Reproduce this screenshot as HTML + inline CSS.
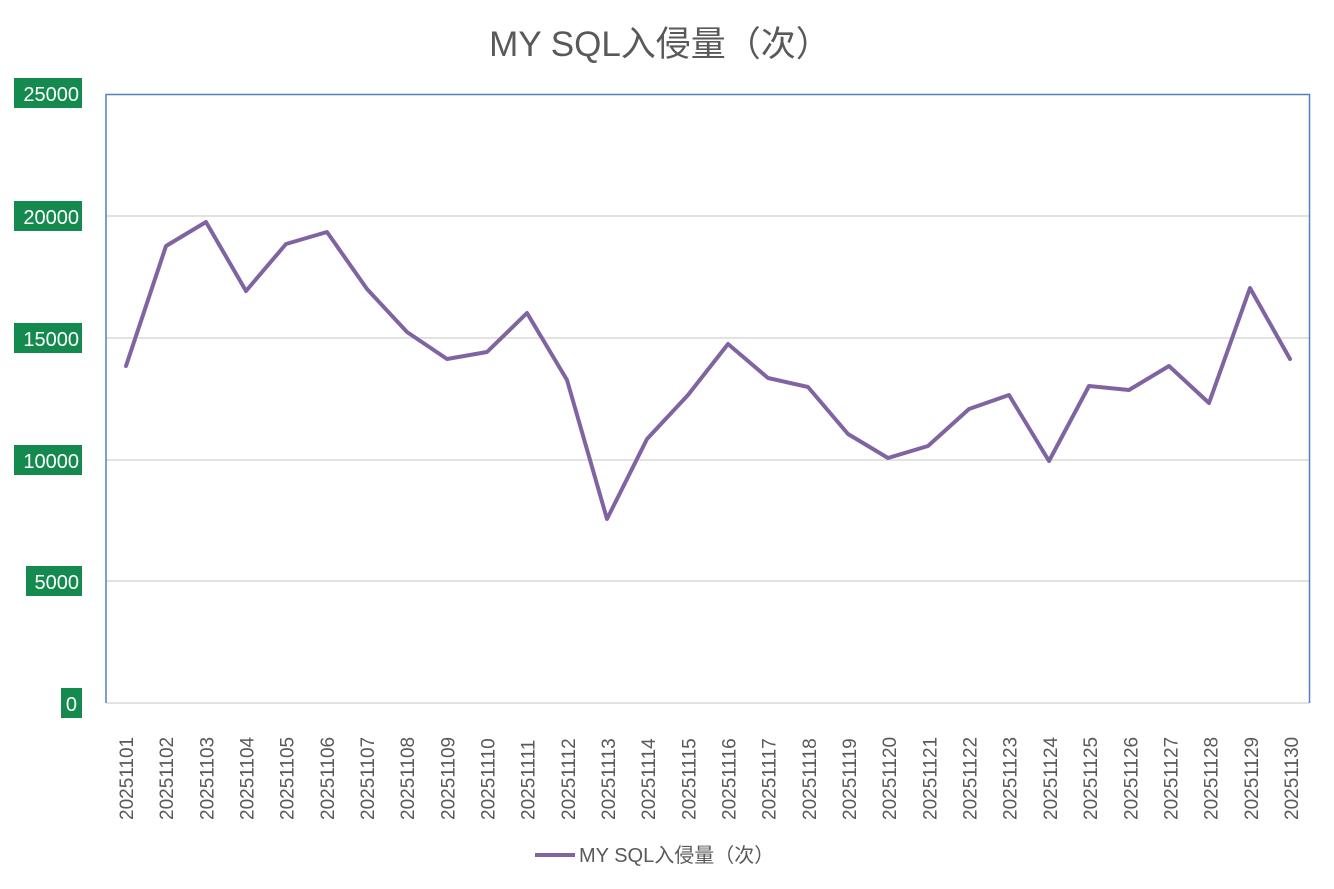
<!DOCTYPE html>
<html><head><meta charset="utf-8"><style>
html,body{margin:0;padding:0;background:#fff;}
svg{display:block;font-family:"Liberation Sans","Noto Sans CJK SC",sans-serif;}
</style></head><body>
<svg width="1334" height="889" viewBox="0 0 1334 889">
<text x="660" y="56" text-anchor="middle" font-size="35" fill="#595959">MY SQL入侵量（次）</text>
<g stroke="#d9d9d9" stroke-width="1.5">
<line x1="106" y1="216" x2="1309" y2="216"/>
<line x1="106" y1="338" x2="1309" y2="338"/>
<line x1="106" y1="460" x2="1309" y2="460"/>
<line x1="106" y1="581" x2="1309" y2="581"/>
<line x1="106" y1="703" x2="1309" y2="703"/>
</g>
<path d="M106 703 V94.5 H1309.5 V703" fill="none" stroke="#4f81bd" stroke-width="1.5"/>
<g fill="#148a4f">
<rect x="14" y="78" width="68" height="30"/>
<rect x="14" y="201" width="68" height="30"/>
<rect x="14" y="323" width="68" height="30"/>
<rect x="14" y="445" width="68" height="30"/>
<rect x="26" y="566" width="56" height="30"/>
<rect x="61" y="688" width="21" height="30"/>
</g>
<g fill="#fff" font-size="20" text-anchor="end">
<text x="79" y="101">25000</text>
<text x="79" y="224">20000</text>
<text x="79" y="346">15000</text>
<text x="79" y="468">10000</text>
<text x="79" y="589">5000</text>
<text x="77" y="711">0</text>
</g>
<polyline fill="none" stroke="#8064a2" stroke-width="4" stroke-linejoin="round" stroke-linecap="round" points="126,366 166,246 206,222 246,291 286,244 327,232 367,289 407,332 447,359 487,352 527,313 567,380 607,519 647,439 688,395 728,344 768,378 808,387 848,434 888,458 928,446 969,409 1009,395 1049,461 1089,386 1129,390 1169,366 1209,403 1250,288 1290,359"/>
<g fill="#595959" font-size="19" id="xl"></g>
<line x1="535" y1="855" x2="575" y2="855" stroke="#8064a2" stroke-width="4"/>
<text x="579" y="862" font-size="20" fill="#595959">MY SQL入侵量（次）</text>
</svg>
<script>
var g=document.getElementById('xl');
for(var i=0;i<30;i++){var x=126+i*40.17+7;var d=i+1;var s='202511'+(d<10?'0'+d:d);
var t=document.createElementNS('http://www.w3.org/2000/svg','text');
t.setAttribute('transform','translate('+x+',820) rotate(-90)');t.textContent=s;g.appendChild(t);}
</script>
</body></html>
